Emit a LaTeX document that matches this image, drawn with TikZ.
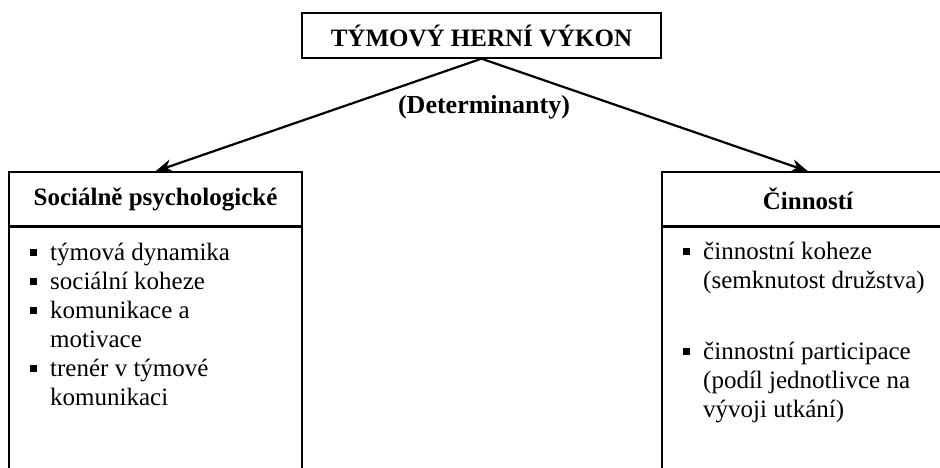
\documentclass[tikz,border=0pt]{standalone}
\usepackage{fontspec}
\setmainfont{Liberation Serif}
\usetikzlibrary{arrows.meta,positioning}

\newcommand\itembox{\makebox[20pt][l]{\rule[5pt]{6.5pt}{6.5pt}}}
\newcommand\itemgap{\hspace*{20pt}}

\begin{document}
\begin{tikzpicture}[x=1pt,y=-1pt]
		\tikzset{
			head box/.style={
					draw, line width=1.4pt, inner sep=0pt,
					font=\fontsize{25}{29}\selectfont\bfseries,
				},
			body box/.style={draw, line width=1.4pt, inner sep=0pt},
			list text/.style={
					align=left, inner sep=0pt, anchor=north west,
					font=\fontsize{25}{29}\selectfont,
				},
			branch/.style={line width=2.2pt, -{Stealth[length=17pt,width=13pt]}},
		}
		\useasboundingbox (0,0) rectangle (940,468);
		%
		\node[head box, minimum width=359pt, minimum height=45pt] (top) at (481.5,35.5) {TÝMOVÝ HERNÍ VÝKON};
		\node[font=\fontsize{26}{29}\selectfont\bfseries] (det) at (484,107) {(Determinanty)};
		%
		\node[head box, minimum width=293pt, minimum height=54pt] (lh) at (155.5,199) {Sociálně psychologické};
		\node[head box, minimum width=292pt, minimum height=54pt] (rh) at (808,199) {Činností};
		\node[body box, anchor=north, minimum width=293pt, minimum height=260pt] (lb) at (lh.south) {};
		\node[body box, anchor=north, minimum width=292pt, minimum height=260pt] (rb) at (rh.south) {};
		%
		\node[list text] (ll) at (30,243) {\itembox týmová dynamika\\
				\itembox sociální koheze\\
				\itembox komunikace a\\
				\itemgap motivace\\
				\itembox trenér v týmové\\
				\itemgap komunikaci};
		\node[list text] (rl) at (683,242) {\itembox činnostní koheze\\
				\itemgap (semknutost družstva)\\[42pt]
				\itembox činnostní participace\\
				\itemgap (podíl jednotlivce na\\
				\itemgap vývoji utkání)};
		%
		\draw[branch] (top.south) -- (lh.north);
		\draw[branch] (top.south) -- (rh.north);
	\end{tikzpicture}
\end{document}
